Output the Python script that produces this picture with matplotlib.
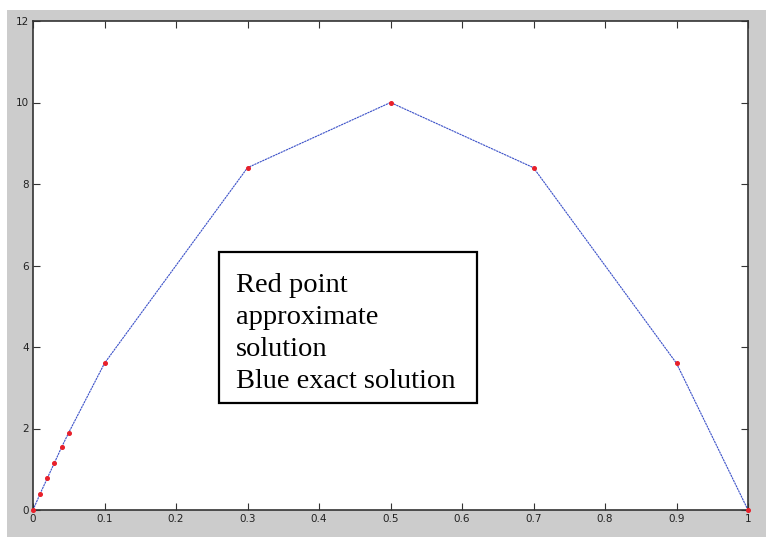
import matplotlib
matplotlib.use("Agg")
import matplotlib.pyplot as plt
from matplotlib.patches import Rectangle

# node positions and solution values
x_nodes = [0, 0.01, 0.02, 0.03, 0.04, 0.05, 0.1, 0.3, 0.5, 0.7, 0.9, 1.0]
y_exact = [0, 0.40, 0.78, 1.16, 1.54, 1.90, 3.60, 8.40, 10.0, 8.40, 3.60, 0]
y_approx = [0, 0.40, 0.78, 1.16, 1.54, 1.90, 3.60, 8.40, 10.0, 8.40, 3.60, 0]

x_ticks = [0, 0.1, 0.2, 0.3, 0.4, 0.5, 0.6, 0.7, 0.8, 0.9, 1]
x_labels = ["0", "0.1", "0.2", "0.3", "0.4", "0.5", "0.6", "0.7", "0.8", "0.9", "1"]
y_ticks = [0, 2, 4, 6, 8, 10, 12]

W, H = 766, 539
fig = plt.figure(figsize=(W / 100, H / 100), dpi=100)
fig.patch.set_facecolor("white")

# grey figure panel like the matlab window
fig.patches.append(Rectangle((7 / W, 2 / H), (W - 7) / W, (H - 12) / H,
                             transform=fig.transFigure, facecolor="#cccccc",
                             edgecolor="none", zorder=-10))

ax = fig.add_axes([33 / W, 1 - 510 / H, (748 - 33) / W, (510 - 21) / H])
ax.set_facecolor("white")

ax.plot(x_nodes, y_exact, color="#3a50c8", lw=0.8, ls=(0, (2, 0.6)), zorder=2)
ax.plot(x_nodes, y_approx, ls="none", marker="o", ms=2.6, color="#e8202a",
        mec="#e8202a", zorder=3, clip_on=False)

ax.set_xlim(0, 1)
ax.set_ylim(0, 12)
ax.set_xticks(x_ticks)
ax.set_xticklabels(x_labels)
ax.set_yticks(y_ticks)
ax.tick_params(direction="in", length=5, width=0.8, color="#333333",
               top=True, right=True, labelsize=7.5, labelcolor="#222222", pad=3)
for sp in ax.spines.values():
    sp.set_color("#333333")
    sp.set_linewidth(1.2)

# annotation box
fig.patches.append(Rectangle((219 / W, 1 - 403 / H), (477 - 219) / W, (403 - 252) / H,
                             transform=fig.transFigure, facecolor="white",
                             edgecolor="black", lw=1.6, zorder=5))
fig.text(236 / W, 1 - 388 / H,
         "Red point\napproximate\nsolution\nBlue exact solution",
         family="Liberation Serif", fontsize=20.5, va="baseline", ha="left",
         linespacing=1.37, zorder=6, multialignment="left")

fig.savefig("out.png", dpi=100)
